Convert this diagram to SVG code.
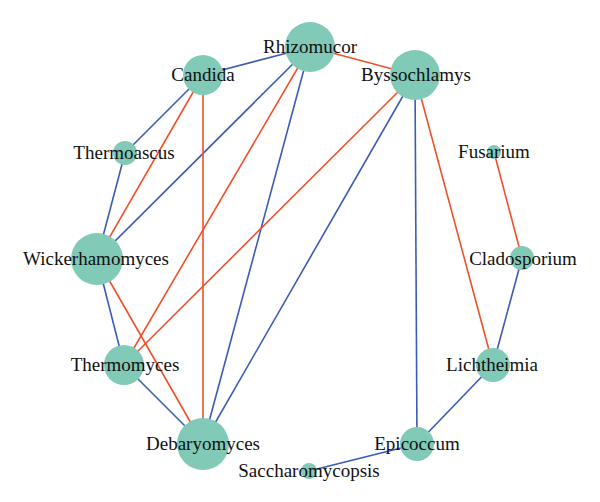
<svg xmlns="http://www.w3.org/2000/svg" width="600" height="502" viewBox="0 0 600 502">
<style>
.b{stroke:#3a5cb4;stroke-width:1.6;fill:none}
.r{stroke:#f0502a;stroke-width:1.6;fill:none}
.n{fill:#80cab7}
text{font-family:"Liberation Serif","DejaVu Serif",serif;font-size:19px;fill:#111;text-anchor:middle}
</style>
<rect width="600" height="502" fill="#fff"/>
<g id="edges">
<line class="b" x1="310" y1="47" x2="203" y2="75"/>
<line class="b" x1="203" y1="75" x2="125" y2="153"/>
<line class="b" x1="125" y1="153" x2="97" y2="259"/>
<line class="b" x1="310" y1="47" x2="97" y2="259"/>
<line class="b" x1="310" y1="47" x2="203" y2="444"/>
<line class="b" x1="415" y1="75" x2="203" y2="444"/>
<line class="b" x1="415" y1="75" x2="417" y2="444"/>
<line class="b" x1="97" y1="259" x2="124" y2="365"/>
<line class="b" x1="124" y1="365" x2="203" y2="444"/>
<line class="b" x1="522" y1="258" x2="493" y2="365"/>
<line class="b" x1="493" y1="365" x2="417" y2="444"/>
<line class="b" x1="417" y1="444" x2="309" y2="471"/>
<line class="r" x1="310" y1="47" x2="415" y2="75"/>
<line class="r" x1="203" y1="75" x2="97" y2="259"/>
<line class="r" x1="203" y1="75" x2="203" y2="444"/>
<line class="r" x1="310" y1="47" x2="124" y2="365"/>
<line class="r" x1="415" y1="75" x2="124" y2="365"/>
<line class="r" x1="97" y1="259" x2="203" y2="444"/>
<line class="r" x1="415" y1="75" x2="493" y2="365"/>
<line class="r" x1="494" y1="152" x2="522" y2="258"/>
</g>
<g id="Rhizomucor"><circle class="n" cx="310" cy="47" r="25"/><text x="310" y="53">Rhizomucor</text></g>
<g id="Candida"><circle class="n" cx="203" cy="75" r="20"/><text x="203" y="81">Candida</text></g>
<g id="Byssochlamys"><circle class="n" cx="415" cy="75" r="25"/><text x="416" y="81">Byssochlamys</text></g>
<g id="Thermoascus"><circle class="n" cx="125" cy="153" r="12"/><text x="124" y="159">Thermoascus</text></g>
<g id="Fusarium"><circle class="n" cx="494" cy="152" r="7"/><text x="494" y="158">Fusarium</text></g>
<g id="Wickerhamomyces"><circle class="n" cx="97" cy="259" r="26"/><text x="96" y="265">Wickerhamomyces</text></g>
<g id="Cladosporium"><circle class="n" cx="522" cy="258" r="12"/><text x="523" y="265">Cladosporium</text></g>
<g id="Thermomyces"><circle class="n" cx="124" cy="365" r="20"/><text x="125" y="371">Thermomyces</text></g>
<g id="Lichtheimia"><circle class="n" cx="493" cy="365" r="17"/><text x="492" y="371">Lichtheimia</text></g>
<g id="Debaryomyces"><circle class="n" cx="203" cy="444" r="26"/><text x="203" y="450">Debaryomyces</text></g>
<g id="Epicoccum"><circle class="n" cx="417" cy="444" r="17"/><text x="417" y="450">Epicoccum</text></g>
<g id="Saccharomycopsis"><circle class="n" cx="309" cy="471" r="8"/><text x="309" y="477">Saccharomycopsis</text></g>
</svg>
